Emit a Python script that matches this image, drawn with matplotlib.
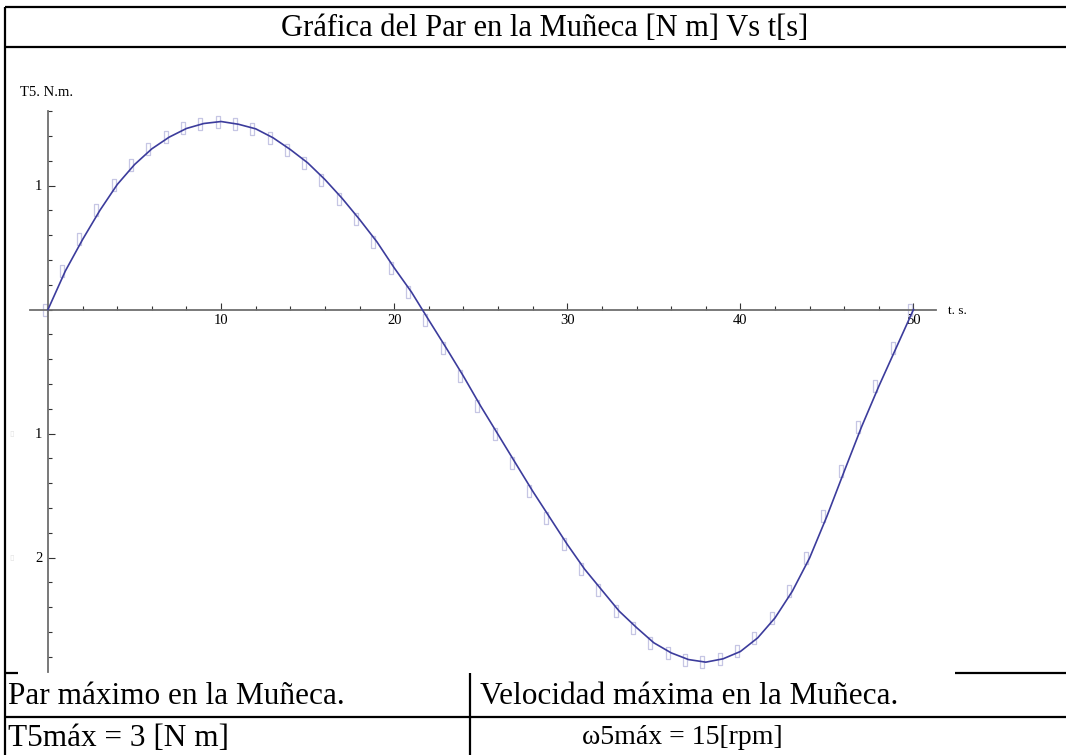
import numpy as np
import matplotlib
matplotlib.use("Agg")
import matplotlib.pyplot as plt
from matplotlib.lines import Line2D
from matplotlib.path import Path
from matplotlib.transforms import ScaledTranslation

# data: torque in the wrist vs time, one value per second
t_s = np.arange(0, 51)
torque = [
    0.0, 0.31, 0.565, 0.80, 1.008, 1.169, 1.296, 1.39, 1.46, 1.50,
    1.516, 1.494, 1.457, 1.385, 1.29, 1.183, 1.048, 0.895, 0.726, 0.546,
    0.336, 0.14, -0.086, -0.309, -0.538, -0.78, -1.008, -1.237, -1.465, -1.68,
    -1.895, -2.094, -2.264, -2.433, -2.565, -2.688, -2.769, -2.823, -2.844, -2.817,
    -2.758, -2.648, -2.487, -2.272, -2.003, -1.667, -1.304, -0.946, -0.618, -0.309,
    0.0,
]
x_major = [10, 20, 30, 40, 50]
y_major = [-2, -1, 1]
y_major_labels = ["2", "1", "1"]

title = "Gráfica del Par en la Muñeca [N m] Vs t[s]"
cell_texts = [
    "Par máximo en la Muñeca.",
    "Velocidad máxima en la Muñeca.",
    "T5máx = 3 [N m]",
    "ω5máx = 15[rpm]",
]

W, H = 1066, 755
SERIF = ["Liberation Serif", "DejaVu Serif"]
plt.rcParams["font.family"] = SERIF

fig = plt.figure(figsize=(W / 100, H / 100), dpi=100)


def fx(x):
    return x / W


def fy(y):
    return 1 - y / H


# pixel geometry of the plot (origin and scale)
x0_px, sx = 48.0, 17.31
y0_px, sy = 309.5, 124.0
left, right, top, bottom = 20, 1000, 75, 672
ax = fig.add_axes([fx(left), fy(bottom), (right - left) / W, (bottom - top) / H])
ax.set_xlim((left - x0_px) / sx, (right - x0_px) / sx)
ax.set_ylim((y0_px - bottom) / sy, (y0_px - top) / sy)
ax.patch.set_visible(False)

axis_grey = "#6e6e6e"
for side in ("top", "right"):
    ax.spines[side].set_visible(False)
ax.spines["bottom"].set_position(("data", 0))
ax.spines["left"].set_position(("data", 0))
ax.spines["bottom"].set_bounds(-1.05, 51.3)
ax.spines["left"].set_bounds((y0_px - 672) / sy, 1.6)
for side in ("bottom", "left"):
    ax.spines[side].set_color(axis_grey)
    ax.spines[side].set_linewidth(1.3)

ax.set_xticks(x_major)
ax.set_xticks(np.arange(2, 51, 2), minor=True)
ax.set_xticklabels([str(v) for v in x_major])
ax.set_yticks(y_major)
ax.set_yticks(np.round(np.arange(-2.8, 1.61, 0.2), 1), minor=True)
ax.set_yticklabels(y_major_labels)
ax.tick_params(axis="both", which="both", direction="in", color="#333333", labelsize=10.5)
ax.tick_params(axis="both", which="major", length=5, width=0.8)
ax.tick_params(axis="both", which="minor", length=3.2, width=0.8)
ax.tick_params(axis="x", pad=3)
ax.tick_params(axis="y", pad=4)

# faint missing-glyph marks in front of the negative labels
for v in y_major:
    if v < 0:
        ax.text(-2.1, v, "▯", color="#e2e2e2", fontsize=6, ha="center", va="center",
                family="DejaVu Sans")

line_color = "#3c3c9c"
ax.plot(t_s, torque, color=line_color, lw=1.2, zorder=3, solid_joinstyle="miter")

box = Path([(-0.35, -1), (0.35, -1), (0.35, 1), (-0.35, 1), (-0.35, -1)])
shift = ax.transData + ScaledTranslation(-3.5 / 100, 0, fig.dpi_scale_trans)
ax.plot(t_s, torque, ls="none", marker=box, markersize=8, mfc="none",
        mec="#c6c6e4", mew=0.9, transform=shift, zorder=2)

fig.text(fx(20), fy(93), "T5. N.m.", fontsize=10.5, va="center", ha="left")
fig.text(fx(948), fy(311), "t. s.", fontsize=9.5, va="center", ha="left")

# table frame
lw = 1.6
frame = [
    ((5, 5), (7, 755)),
    ((5, W), (7, 7)),
    ((5, W), (47, 47)),
    ((5, 18), (673, 673)),
    ((955, W), (673, 673)),
    ((5, W), (717, 717)),
    ((470, 470), (673, 755)),
]
for xs, ys in frame:
    fig.add_artist(Line2D([fx(x) for x in xs], [fy(y) for y in ys],
                          color="black", lw=lw, solid_capstyle="butt"))

big = 22.5
fig.text(fx(545), fy(28), title, fontsize=22, ha="center", va="center")
fig.text(fx(8), fy(696), cell_texts[0], fontsize=big, ha="left", va="center")
fig.text(fx(480), fy(696), cell_texts[1], fontsize=big, ha="left", va="center")
fig.text(fx(8), fy(738), cell_texts[2], fontsize=big, ha="left", va="center")
fig.text(fx(682), fy(738), cell_texts[3], fontsize=20, ha="center", va="center")

fig.savefig("out.png", dpi=100)
